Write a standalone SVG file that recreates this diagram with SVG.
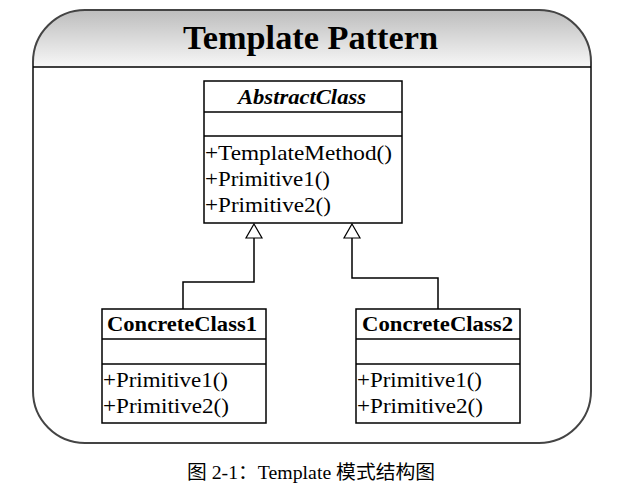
<svg xmlns="http://www.w3.org/2000/svg" width="629" height="490" viewBox="0 0 629 490">
<defs>
<linearGradient id="hdr" x1="0" y1="0" x2="0" y2="1">
<stop offset="0" stop-color="#bdbdbd"/>
<stop offset="1" stop-color="#f7f7f7"/>
</linearGradient>
<clipPath id="frameClip"><rect x="33" y="10" width="558" height="433" rx="52" ry="52"/></clipPath>
<style>
.box{fill:#fff;stroke:#000;stroke-width:1.5}
.ln{stroke:#000;stroke-width:1.5;fill:none}
.head{fill:#fff;stroke:#000;stroke-width:1.2}
.t{font-family:"Liberation Serif","Times New Roman",serif;font-size:21px;fill:#000}
.b{font-weight:bold}
.bi{font-weight:bold;font-style:italic}
</style>
</defs>
<rect width="629" height="490" fill="#fff"/>
<g id="frame">
<rect x="33" y="10" width="558" height="57" fill="url(#hdr)" clip-path="url(#frameClip)"/>
<rect x="33" y="10" width="558" height="433" rx="52" ry="52" fill="none" stroke="#444" stroke-width="2"/>
<line x1="33" y1="67" x2="591" y2="67" stroke="#000" stroke-width="1.5"/>
<text x="183" y="49" textLength="255" lengthAdjust="spacingAndGlyphs" font-family="Liberation Serif, serif" font-weight="bold" font-size="33" fill="#000">Template Pattern</text>
</g>
<g id="AbstractClass">
<rect class="box" x="204" y="81" width="198" height="142"/>
<line class="ln" x1="204" y1="112" x2="402" y2="112"/>
<line class="ln" x1="204" y1="136" x2="402" y2="136"/>
<text class="t bi" x="238" y="104" textLength="128" lengthAdjust="spacingAndGlyphs">AbstractClass</text>
<text class="t" x="205" y="160" textLength="187" lengthAdjust="spacingAndGlyphs">+TemplateMethod()</text>
<text class="t" x="205" y="186" textLength="125" lengthAdjust="spacingAndGlyphs">+Primitive1()</text>
<text class="t" x="205" y="212" textLength="126" lengthAdjust="spacingAndGlyphs">+Primitive2()</text>
</g>
<g id="ConcreteClass1">
<rect class="box" x="102" y="309" width="164" height="114"/>
<line class="ln" x1="102" y1="339" x2="266" y2="339"/>
<line class="ln" x1="102" y1="364" x2="266" y2="364"/>
<text class="t b" x="107" y="331" textLength="150" lengthAdjust="spacingAndGlyphs">ConcreteClass1</text>
<text class="t" x="103" y="387" textLength="125" lengthAdjust="spacingAndGlyphs">+Primitive1()</text>
<text class="t" x="103" y="413" textLength="126" lengthAdjust="spacingAndGlyphs">+Primitive2()</text>
</g>
<g id="ConcreteClass2">
<rect class="box" x="356" y="309" width="164" height="114"/>
<line class="ln" x1="356" y1="339" x2="520" y2="339"/>
<line class="ln" x1="356" y1="364" x2="520" y2="364"/>
<text class="t b" x="362" y="331" textLength="151" lengthAdjust="spacingAndGlyphs">ConcreteClass2</text>
<text class="t" x="357" y="387" textLength="125" lengthAdjust="spacingAndGlyphs">+Primitive1()</text>
<text class="t" x="357" y="413" textLength="126" lengthAdjust="spacingAndGlyphs">+Primitive2()</text>
</g>
<g id="connectors">
<polyline class="ln" points="183,309 183,282 254,282 254,238"/>
<path class="head" d="M254,224 L262,238 L246,238 Z"/>
<polyline class="ln" points="438,309 438,278 352,278 352,238"/>
<path class="head" d="M352,224 L360,238 L344,238 Z"/>
</g>
<text x="187" y="479" textLength="248" lengthAdjust="spacingAndGlyphs" font-family="Liberation Serif, 'Noto Sans CJK SC', serif" font-size="19" fill="#000">图 2-1：Template 模式结构图</text>
</svg>
